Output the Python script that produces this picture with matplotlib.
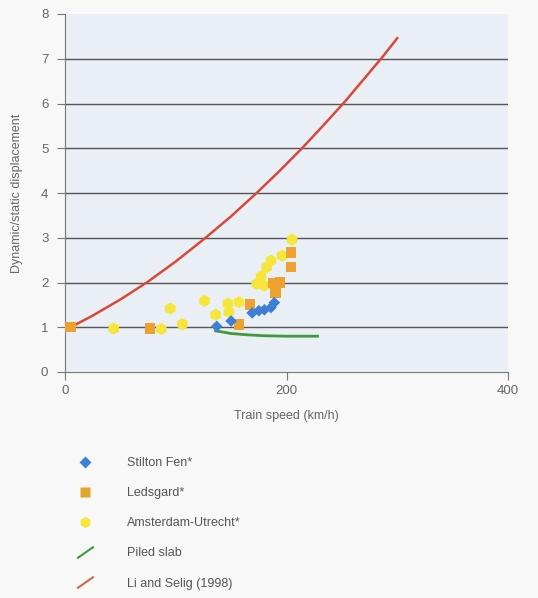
import numpy as np
import matplotlib
matplotlib.use('Agg')
import matplotlib.pyplot as plt
from matplotlib.lines import Line2D
from matplotlib.path import Path

plt.rcParams['font.family'] = ['Liberation Sans', 'DejaVu Sans']

# data
stilton_x = [137, 150, 169, 175, 180, 186, 189]
stilton_y = [1.02, 1.14, 1.32, 1.37, 1.39, 1.44, 1.55]

ledsgard_x = [5, 77, 157, 167, 188, 194, 190, 204, 204]
ledsgard_y = [1.0, 0.97, 1.06, 1.51, 1.99, 2.0, 1.76, 2.35, 2.67]

amst_x = [44, 87, 95, 106, 126, 136, 147, 148, 157, 173, 177, 180, 182, 186, 196, 205]
amst_y = [0.97, 0.96, 1.42, 1.07, 1.59, 1.28, 1.53, 1.34, 1.56, 1.97, 2.14, 1.93, 2.34, 2.49, 2.6, 2.96]

piled_x = [136, 150, 165, 180, 200, 228]
piled_y = [0.92, 0.86, 0.83, 0.81, 0.80, 0.80]

li_x = [5, 25, 50, 75, 100, 126, 150, 173, 194, 214, 234, 253, 270, 287, 300]
li_y = [1.0, 1.26, 1.62, 2.02, 2.47, 2.98, 3.48, 4.0, 4.5, 5.0, 5.53, 6.05, 6.55, 7.05, 7.46]

labels = ['Stilton Fen*', 'Ledsgard*', 'Amsterdam-Utrecht*', 'Piled slab', 'Li and Selig (1998)']

c_blue = '#3d7fd6'
c_orange = '#eea030'
c_yellow = '#f6e63a'
c_green = '#3f9a3c'
c_red = '#d8493a'
c_text = '#666666'

fig = plt.figure(figsize=(5.38, 5.98), dpi=100)
fig.patch.set_facecolor('#f8f8f8')
ax = fig.add_axes([65/538, 1-372/598, (508-65)/538, (372-14)/598])
ax.set_facecolor('#e9eff5')

for yv in range(1, 8):
    ax.axhline(yv, color='#555555', lw=1.0, zorder=1)

ax.plot(li_x, li_y, color=c_red, lw=1.8, zorder=3)
ax.plot(piled_x, piled_y, color=c_green, lw=2.0, zorder=3)
ax.scatter(amst_x, amst_y, marker='h', s=75, color=c_yellow, edgecolors='none', zorder=4)
ax.scatter(ledsgard_x, ledsgard_y, marker='s', s=55, color=c_orange, edgecolors='none', zorder=5)
ax.scatter(stilton_x, stilton_y, marker='D', s=35, color=c_blue, edgecolors='none', zorder=6)

ax.set_xlim(0, 400)
ax.set_ylim(0, 8)
ax.set_xticks([0, 200, 400])
ax.set_yticks(range(0, 9))
for s in ['top', 'right']:
    ax.spines[s].set_visible(False)
for s in ['left', 'bottom']:
    ax.spines[s].set_color('#777777')
ax.tick_params(colors='#777777', labelcolor=c_text, labelsize=9.5, length=6)
ax.tick_params(axis='y', pad=6)
ax.set_xlabel('Train speed (km/h)', color=c_text, fontsize=9, labelpad=9)
ax.set_ylabel('Dynamic/static displacement', color=c_text, fontsize=9, labelpad=13)

slash = Path([(-1, -0.7), (1, 0.7)])
handles = [
    Line2D([], [], ls='none', marker='D', ms=6, color=c_blue, mec='none'),
    Line2D([], [], ls='none', marker='s', ms=7, color='#e2a62a', mec='none'),
    Line2D([], [], ls='none', marker='h', ms=8, color=c_yellow, mec='none'),
    Line2D([], [], ls='none', marker=slash, ms=12, mew=1.5, color=c_green, mfc='none'),
    Line2D([], [], ls='none', marker=slash, ms=12, mew=1.5, color='#cf6a3a', mfc='none'),
]
leg = fig.legend(handles, labels, loc='upper left', bbox_to_anchor=(72.5/538, 1-457/598),
                 frameon=False, fontsize=9, handlelength=2, handletextpad=2.36,
                 labelspacing=1.45, borderpad=0, borderaxespad=0)
for t in leg.get_texts():
    t.set_color('#555555')

fig.savefig('out.png', dpi=100, facecolor=fig.get_facecolor())
